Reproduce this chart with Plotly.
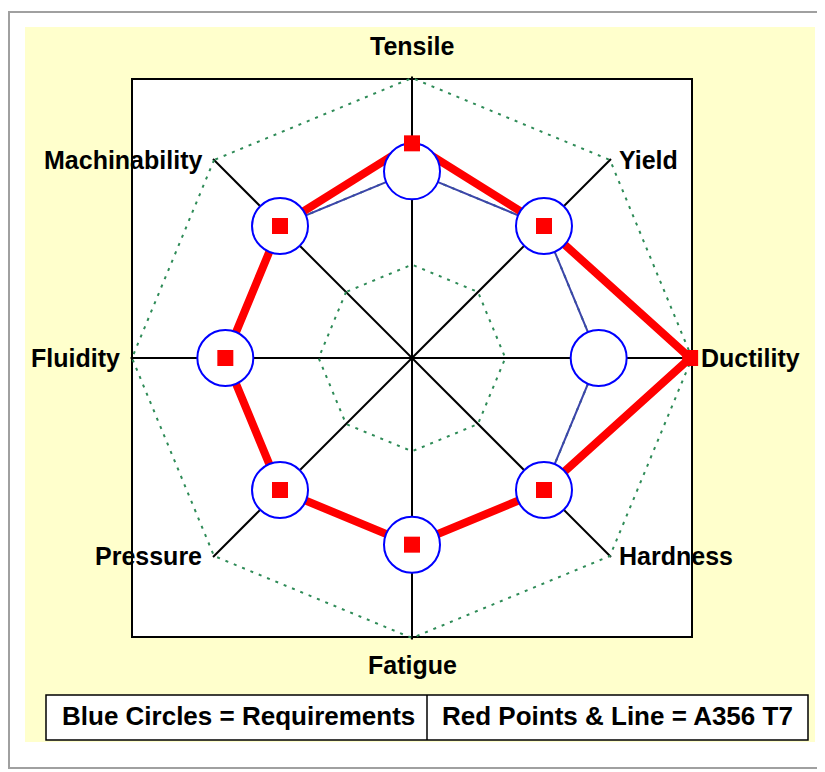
import math
import plotly.graph_objects as go

# ---- data ----
categories = ["Tensile", "Yield", "Ductility", "Hardness",
              "Fatigue", "Pressure", "Fluidity", "Machinability"]
requirements = [2, 2, 2, 2, 2, 2, 2, 2]
a356_t7 = [2.3, 2.0, 2.98, 2.0, 2.0, 2.0, 2.0, 2.0]
grid_levels = [1, 2, 3]
r_max = 3
legend_left = "Blue Circles = Requirements"
legend_right = "Red Points & Line = A356 T7"


def closed(v):
    v = list(v)
    return v + v[:1]


# page body has an 8px margin -> work in screen coordinates and convert
OFF = 8
W, H = 817, 764
BX0, BY0, BX1, BY1 = 132, 79, 692, 637
CX, CY = (BX0 + BX1) / 2, (BY0 + BY1) / 2
R = (BX1 - BX0) / 2
FONT = "Liberation Sans, Arial, sans-serif"
FS = 25
FS_LEG = 26


def px(x):
    return (x - OFF) / W


def py(y):
    return 1 - (y - OFF) / H


fig = go.Figure()

# blue requirement line
fig.add_trace(go.Scatterpolar(
    r=closed(requirements), theta=closed(categories), mode="lines",
    line=dict(color="rgb(60,70,170)", width=2), hoverinfo="skip", showlegend=False))
# red line
fig.add_trace(go.Scatterpolar(
    r=closed(a356_t7), theta=closed(categories), mode="lines",
    line=dict(color="#ff0000", width=8), hoverinfo="skip", showlegend=False,
    cliponaxis=False))
# blue circles
fig.add_trace(go.Scatterpolar(
    r=requirements, theta=categories, mode="markers",
    marker=dict(symbol="circle", size=56, color="white",
                line=dict(color="#0000ff", width=2)),
    showlegend=False, name="Requirements"))
# red squares
fig.add_trace(go.Scatterpolar(
    r=a356_t7, theta=categories, mode="markers",
    marker=dict(symbol="square", size=16, color="#ff0000", line=dict(width=0)),
    showlegend=False, name="A356 T7", cliponaxis=False))

shapes = [
    dict(type="rect", xref="paper", yref="paper", x0=px(9), y0=py(12), x1=px(823), y1=py(768),
         line=dict(color="#a0a0a0", width=2), fillcolor="white", layer="below"),
    dict(type="rect", xref="paper", yref="paper", x0=px(25), y0=py(27), x1=px(815), y1=py(742),
         line=dict(width=0), fillcolor="#ffffcc", layer="below"),
    dict(type="rect", xref="paper", yref="paper", x0=px(BX0), y0=py(BY0), x1=px(BX1), y1=py(BY1),
         line=dict(color="black", width=2), fillcolor="white", layer="below"),
    dict(type="rect", xref="paper", yref="paper", x0=px(46), y0=py(695), x1=px(808), y1=py(740),
         line=dict(color="black", width=1.5), fillcolor="white", layer="below"),
    dict(type="line", xref="paper", yref="paper", x0=px(427), y0=py(695), x1=px(427), y1=py(740),
         line=dict(color="black", width=1.5), layer="below"),
]

annotations = [
    dict(text=legend_left, x=px(238), y=py(716), xref="paper", yref="paper",
         showarrow=False, font=dict(family=FONT, size=FS_LEG, color="black", weight="bold"),
         xanchor="center", yanchor="middle"),
    dict(text=legend_right, x=px(617), y=py(716), xref="paper", yref="paper",
         showarrow=False, font=dict(family=FONT, size=FS_LEG, color="black", weight="bold"),
         xanchor="center", yanchor="middle"),
]

# category labels placed just outside each spoke end
n = len(categories)
for i, name in enumerate(categories):
    a = math.radians(90 - 360 * i / n)
    c, s = math.cos(a), math.sin(a)
    x = CX + R * c
    y = CY - R * s
    if abs(c) < 0.1:
        xa = "center"
        y += -32 if s > 0 else 27
    elif c > 0:
        xa = "left"
        x += 7
    else:
        xa = "right"
        x -= 10
    annotations.append(dict(text=name, x=px(x), y=py(y), xref="paper", yref="paper",
                            showarrow=False, xanchor=xa, yanchor="middle",
                            font=dict(family=FONT, size=FS, color="black", weight="bold")))

pad = 1.005
half = R * pad
fig.update_layout(
    width=W, height=H,
    margin=dict(l=0, r=0, t=0, b=0),
    paper_bgcolor="white",
    shapes=shapes,
    annotations=annotations,
    polar=dict(
        domain=dict(x=[px(CX - half), px(CX + half)], y=[py(CY + half), py(CY - half)]),
        bgcolor="rgba(0,0,0,0)",
        gridshape="linear",
        radialaxis=dict(range=[0, r_max * pad], tickvals=grid_levels, showticklabels=False,
                        showline=False, ticks="",
                        gridcolor="#2e8b57", griddash="3px,6px", gridwidth=2),
        angularaxis=dict(direction="clockwise", rotation=90,
                         categoryorder="array", categoryarray=categories,
                         showline=False, showticklabels=False, ticks="",
                         gridcolor="black", gridwidth=1.5),
    ),
)

fig.write_html("out.html")
